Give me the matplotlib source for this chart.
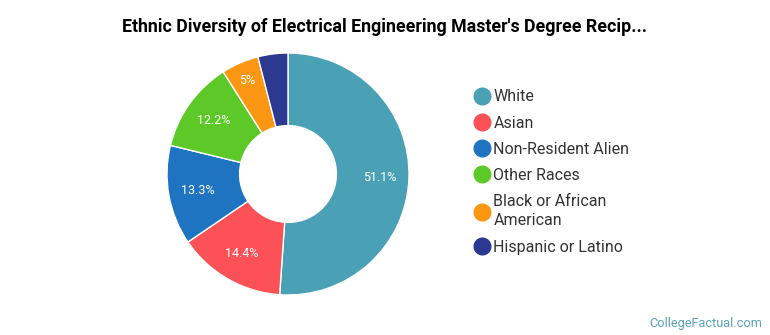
import matplotlib
matplotlib.use('agg')
import matplotlib.pyplot as plt
from matplotlib.lines import Line2D
import numpy as np

plt.rcParams['font.family'] = ['Roboto', 'DejaVu Sans']

title = "Ethnic Diversity of Electrical Engineering Master's Degree Recip..."
categories = ['White', 'Asian', 'Non-Resident Alien', 'Other Races',
              'Black or African\nAmerican', 'Hispanic or Latino']
shares = [51.1, 14.4, 13.3, 12.2, 5.0, 4.0]
pct_labels = ['51.1%', '14.4%', '13.3%', '12.2%', '5%', '']
colors = ['#4aa0b5', '#fc5157', '#1f74c2', '#5dc928', '#fb9712', '#2c3991']

fig = plt.figure(figsize=(7.7, 3.35), dpi=100)
ax = fig.add_axes([167 / 770, 40 / 335, 242 / 770, 242 / 335])

wedges, _ = ax.pie(shares, colors=colors, startangle=90, counterclock=False,
                   wedgeprops=dict(width=0.6, edgecolor='white', linewidth=1))
ax.set_aspect('equal')
ax.set_xlim(-1, 1)
ax.set_ylim(-1, 1)

total = sum(shares)
start = 90.0
for v, lab in zip(shares, pct_labels):
    mid = np.deg2rad(start - v / total * 360 / 2)
    start -= v / total * 360
    if lab:
        # narrow slices get their label pushed outward
        r = 0.84 if v < 8 else 0.76
        ax.text(r * np.cos(mid), r * np.sin(mid), lab, ha='center', va='center',
                color='white', fontsize=9)

fig.text(0.5, 0.918, title, ha='center', va='center', fontsize=12.8,
         fontweight='bold', color='#000000')

handles = [Line2D([], [], marker='o', linestyle='', markersize=12,
                  markerfacecolor=c, markeredgecolor=c) for c in colors]
leg = fig.legend(handles, categories, loc='upper left', bbox_to_anchor=(0.595, 0.776),
                 frameon=False, fontsize=11.5, handletextpad=0.1, labelspacing=0.7,
                 handlelength=1.2)
for t in leg.get_texts():
    t.set_color('#333333')
    t.set_linespacing(1.35)

fig.text(0.99, 0.035, 'CollegeFactual.com', ha='right', va='center', fontsize=9.2,
         color='#5aa3b8')

fig.savefig('out.png', dpi=100)
